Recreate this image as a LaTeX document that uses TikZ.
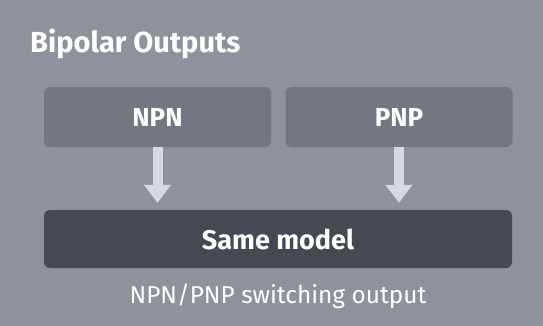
\documentclass[tikz,border=0pt]{standalone}
\usepackage{fontspec}
\setmainfont{Fira Sans}
\usetikzlibrary{arrows.meta}
\definecolor{panelgray}{HTML}{8E929C}
\definecolor{srcgray}{HTML}{737781}
\definecolor{modelgray}{HTML}{464952}
\definecolor{flowgray}{HTML}{D5D9E2}
\begin{document}
\begin{tikzpicture}[x=1pt,y=-1pt,
  titletext/.style={text=white,font=\fontsize{29}{34}\selectfont\bfseries,inner sep=0pt},
  srcbox/.style={fill=srcgray,rounded corners=6pt,minimum width=227pt,minimum height=60pt,
    text=white,font=\fontsize{26}{30}\selectfont\bfseries,inner sep=0pt},
  modelbox/.style={fill=modelgray,rounded corners=6pt,minimum width=468pt,minimum height=58pt,
    text=white,font=\fontsize{27}{32}\selectfont\bfseries,inner sep=0pt},
  captiontext/.style={text=white,font=\fontsize{24.4}{29}\selectfont,inner sep=0pt},
  flow/.style={draw=flowgray,line width=10pt,
    -{Triangle[width=26pt,length=18pt,fill=flowgray]},shorten >=7pt}]
  % background panel
  \fill[panelgray] (0,0) rectangle (543,326);
  \useasboundingbox (0,0) rectangle (543,326);
  % heading
  \node[titletext,anchor=base west] (title) at (30,53) {Bipolar Outputs};
  % the two output types
  \node[srcbox] (npn) at (157.5,117) {NPN};
  \node[srcbox] (pnp) at (399,117) {PNP};
  % the combined model
  \node[modelbox] (model) at (278,239) {Same model};
  \node[captiontext] (cap) at (278,296) {NPN/PNP switching output};
  % arrows into the model
  \draw[flow] (npn.south) -- (npn.south |- model.north);
  \draw[flow] (pnp.south) -- (pnp.south |- model.north);
\end{tikzpicture}
\end{document}
